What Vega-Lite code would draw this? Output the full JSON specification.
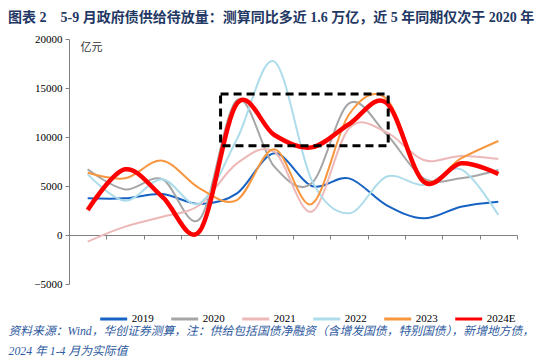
{
 "$schema": "https://vega.github.io/schema/vega-lite/v6.json",
 "width": 537,
 "height": 245,
 "autosize": "none",
 "padding": {"left": 8, "top": 39, "right": 5, "bottom": 76},
 "background": "white",
 "config": {"view": {"stroke": null}, "font": "Noto Sans CJK SC"},
 "title": {
  "text": "图表 2\u2002\u20025-9 月政府债供给待放量：测算同比多近 1.6 万亿，近 5 年同期仅次于 2020 年",
  "anchor": "start", "frame": "group",
  "font": "Liberation Serif, Noto Sans CJK SC", "fontSize": 14, "fontWeight": "bold",
  "color": "#1F3864", "offset": 8
 },
 "datasets": {
  "supply": [
   {"m":1,"s":"2019","v":3740},{"m":2,"s":"2019","v":3740},{"m":3,"s":"2019","v":4180},{"m":4,"s":"2019","v":3160},{"m":5,"s":"2019","v":4250},{"m":6,"s":"2019","v":8330},{"m":7,"s":"2019","v":5000},{"m":8,"s":"2019","v":5780},{"m":9,"s":"2019","v":3060},{"m":10,"s":"2019","v":1700},{"m":11,"s":"2019","v":2890},{"m":12,"s":"2019","v":3400},
   {"m":1,"s":"2020","v":6700},{"m":2,"s":"2020","v":4650},{"m":3,"s":"2020","v":5700},{"m":4,"s":"2020","v":1630},{"m":5,"s":"2020","v":13770},{"m":6,"s":"2020","v":6970},{"m":7,"s":"2020","v":5270},{"m":8,"s":"2020","v":13430},{"m":9,"s":"2020","v":10300},{"m":10,"s":"2020","v":5780},{"m":11,"s":"2020","v":5780},{"m":12,"s":"2020","v":6630},
   {"m":1,"s":"2021","v":-680},{"m":2,"s":"2021","v":850},{"m":3,"s":"2021","v":1870},{"m":4,"s":"2021","v":3060},{"m":5,"s":"2021","v":7310},{"m":6,"s":"2021","v":8500},{"m":7,"s":"2021","v":2380},{"m":8,"s":"2021","v":10880},{"m":9,"s":"2021","v":10500},{"m":10,"s":"2021","v":7650},{"m":11,"s":"2021","v":8060},{"m":12,"s":"2021","v":7750},
   {"m":1,"s":"2022","v":6190},{"m":2,"s":"2022","v":3500},{"m":3,"s":"2022","v":5700},{"m":4,"s":"2022","v":3230},{"m":5,"s":"2022","v":9800},{"m":6,"s":"2022","v":17700},{"m":7,"s":"2022","v":5600},{"m":8,"s":"2022","v":2210},{"m":9,"s":"2022","v":5950},{"m":10,"s":"2022","v":5100},{"m":11,"s":"2022","v":6700},{"m":12,"s":"2022","v":2040},
   {"m":1,"s":"2023","v":6360},{"m":2,"s":"2023","v":5780},{"m":3,"s":"2023","v":7580},{"m":4,"s":"2023","v":4760},{"m":5,"s":"2023","v":3570},{"m":6,"s":"2023","v":8740},{"m":7,"s":"2023","v":3160},{"m":8,"s":"2023","v":12300},{"m":9,"s":"2023","v":13900},{"m":10,"s":"2023","v":5610},{"m":11,"s":"2023","v":7820},{"m":12,"s":"2023","v":9590},
   {"m":1,"s":"2024E","v":2550},{"m":2,"s":"2024E","v":6700},{"m":3,"s":"2024E","v":3900},{"m":4,"s":"2024E","v":400},{"m":5,"s":"2024E","v":13430},{"m":6,"s":"2024E","v":10200},{"m":7,"s":"2024E","v":8940},{"m":8,"s":"2024E","v":11300},{"m":9,"s":"2024E","v":13500},{"m":10,"s":"2024E","v":5440},{"m":11,"s":"2024E","v":7310},{"m":12,"s":"2024E","v":6220}
  ],
  "box": [{"x1": 4.56, "x2": 9.05, "y1": 9110, "y2": 14380}]
 },
 "layer": [
  {
   "data": {"name": "supply"},
   "transform": [{"filter": "datum.s !== '2024E'"}],
   "mark": {"type": "line", "interpolate": "cardinal", "strokeWidth": 2},
   "encoding": {
    "x": {
     "field": "m", "type": "quantitative",
     "scale": {"domain": [0.5, 12.5], "range": [61, 509], "nice": false, "zero": false},
     "axis": {
      "title": ["资料来源：Wind，华创证券测算，注：供给包括国债净融资（含增发国债，特别国债），新增地方债，", "2024 年 1-4 月为实际值"],
      "titleFont": "Liberation Serif, Noto Sans CJK SC", "titleFontSize": 11.8, "titleFontStyle": "italic", "titleFontWeight": "normal",
      "titleColor": "#2E5A9E", "titleX": 0, "titleY": 90, "titleAlign": "left", "titleBaseline": "top", "titleAnchor": "start", "titleLineHeight": 20,
      "offset": -49,
      "values": [0.5,1,1.5,2,2.5,3,3.5,4,4.5,5,5.5,6,6.5,7,7.5,8,8.5,9,9.5,10,10.5,11,11.5,12,12.5],
      "labelExpr": "datum.value % 1 === 0 ? datum.value + '月' : ''",
      "labelFont": "Liberation Serif, Noto Sans CJK SC", "labelFontSize": 11, "labelColor": "#000",
      "labelPadding": 7, "labelOverlap": false, "labelFlush": false,
      "tickSize": 4, "tickColor": "#808080", "domainColor": "#808080",
      "tickOpacity": {"condition": {"test": "datum.value % 1 !== 0", "value": 1}, "value": 0},
      "grid": false
     }
    },
    "y": {
     "field": "v", "type": "quantitative",
     "scale": {"domain": [-5000, 20000], "nice": false, "zero": false},
     "axis": {
      "title": "亿元", "titleAngle": 0, "titleX": 22, "titleY": 8, "titleAlign": "center", "titleBaseline": "middle",
      "titleFont": "Noto Sans CJK SC", "titleFontSize": 11, "titleFontWeight": "normal", "titleColor": "#333",
      "offset": -61,
      "values": [-5000, 0, 5000, 10000, 15000, 20000], "format": "d",
      "labelFont": "Liberation Serif", "labelFontSize": 11, "labelColor": "#000", "labelPadding": 3,
      "tickSize": 4, "tickColor": "#808080", "domainColor": "#808080", "grid": false
     }
    },
    "color": {
     "field": "s", "type": "nominal",
     "scale": {"domain": ["2019","2020","2021","2022","2023","2024E"], "range": ["#1763C4","#A6A6A6","#EDB8B8","#ADDCEB","#F7963F","#FF0000"]},
     "legend": {
      "orient": "none", "legendX": 90.7, "legendY": 265, "direction": "horizontal", "title": null,
      "symbolType": "stroke", "symbolSize": 729, "symbolStrokeWidth": 3,
      "labelFont": "Liberation Serif", "labelFontSize": 11, "labelColor": "#000", "labelOffset": 3,
      "columnPadding": 11, "padding": 0
     }
    }
   }
  },
  {
   "data": {"name": "supply"},
   "transform": [{"filter": "datum.s === '2024E'"}],
   "mark": {"type": "line", "interpolate": "cardinal", "strokeWidth": 4.5},
   "encoding": {
    "x": {"field": "m", "type": "quantitative"},
    "y": {"field": "v", "type": "quantitative"},
    "color": {"field": "s", "type": "nominal"}
   }
  },
  {
   "data": {"name": "box"},
   "mark": {"type": "rect", "filled": false, "stroke": "#000", "strokeWidth": 3, "strokeDash": [8, 5]},
   "encoding": {
    "x": {"field": "x1", "type": "quantitative"},
    "x2": {"field": "x2"},
    "y": {"field": "y1", "type": "quantitative"},
    "y2": {"field": "y2"}
   }
  },
  {
   "mark": {"type": "text", "font": "Noto Sans CJK SC", "fontSize": 15, "color": "#000", "align": "center", "baseline": "middle"},
   "encoding": {
    "x": {"datum": 6.49},
    "y": {"datum": 19360},
    "text": {"value": "政府债供给"}
   }
  },
  {
   "mark": {"type": "rule", "color": "#1F3864", "strokeWidth": 2.5},
   "encoding": {"y": {"datum": 21090}}
  },
  {
   "mark": {"type": "rule", "color": "#1F3864", "strokeWidth": 2},
   "encoding": {"y": {"datum": -8806}}
  }
 ]
}
